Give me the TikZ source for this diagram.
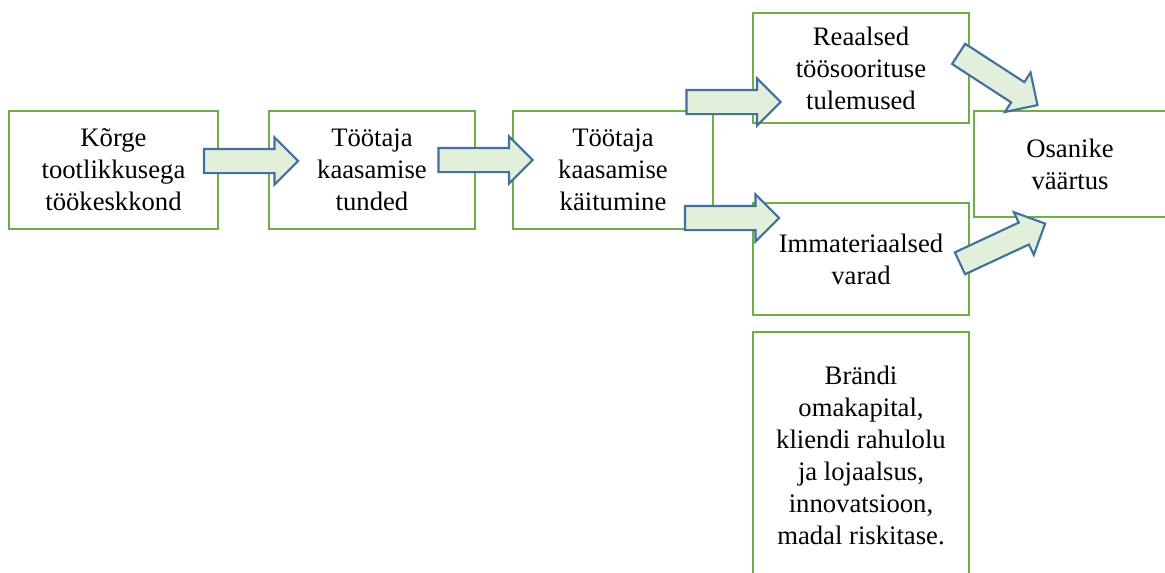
\documentclass[tikz,border=0pt]{standalone}
\usepackage{fontspec}
\setmainfont{Liberation Serif}
\usepackage{tikz}
\usetikzlibrary{shapes.arrows}

\definecolor{boxgreen}{RGB}{112,173,71}
\definecolor{arrowfill}{RGB}{226,239,218}
\definecolor{arrowblue}{RGB}{65,113,156}

\tikzset{
  greenbox/.style={draw=boxgreen, line width=2.1pt, fill=white, align=center, inner sep=0pt,
    font=\fontsize{20}{24}\selectfont},
  blockarrow/.style={single arrow, draw=arrowblue, fill=arrowfill, line width=1.6pt,
    inner xsep=0pt, inner ysep=8.25pt, minimum width=0pt, single arrow head extend=8.6pt,
    minimum height=70.5pt}
}

\begin{document}
\begin{tikzpicture}[x=0.75pt,y=0.75pt,yscale=-1,xscale=1]
\path[use as bounding box, clip] (0,0) rectangle (1165,572);

%Shape: Rectangle [id:kork]
\node [greenbox, minimum width=156.75pt, minimum height=88.5pt] (kork) at (113.5,170) {Kõrge\\tootlikkusega\\töökeskkond};
%Shape: Rectangle [id:tunded]
\node [greenbox, minimum width=154.5pt, minimum height=88.5pt] (tunded) at (372,170) {Töötaja\\kaasamise\\tunded};
%Shape: Rectangle [id:kaitumine]
\node [greenbox, minimum width=150pt, minimum height=88.5pt] (kaitumine) at (613,170) {Töötaja\\kaasamise\\käitumine};
%Shape: Rectangle [id:reaalsed]
\node [greenbox, minimum width=162pt, minimum height=82.5pt] (reaalsed) at (861,68) {Reaalsed\\töösoorituse\\tulemused};
%Shape: Rectangle [id:immat]
\node [greenbox, minimum width=162pt, minimum height=84pt] (immat) at (861,259) {Immateriaalsed\\varad};
%Shape: Rectangle [id:osanike]
\node [greenbox, minimum width=144pt, minimum height=79.5pt] (osanike) at (1070,164) {Osanike\\väärtus};
%Shape: Rectangle [id:brandi]
\node [greenbox, minimum width=162pt, minimum height=184.5pt] (brandi) at (861,455) {Brändi\\omakapital,\\kliendi rahulolu\\ja lojaalsus,\\innovatsioon,\\madal riskitase.};

%Shape: Right Arrow [id:nool1]
\node [blockarrow] (nool1) at (245,161) {};
%Shape: Right Arrow [id:nool2]
\node [blockarrow] (nool2) at (479.5,160) {};
%Shape: Right Arrow [id:nool3]
\node [blockarrow] (nool3) at (727.5,102) {};
%Shape: Right Arrow [id:nool4]
\node [blockarrow] (nool4) at (726,218) {};
%Shape: Right Arrow [id:nool5]
\node [blockarrow, rotate=-33] (nool5) at (993,76.2) {};
%Shape: Right Arrow [id:nool6]
\node [blockarrow, rotate=25] (nool6) at (997.1,246) {};

\end{tikzpicture}
\end{document}
